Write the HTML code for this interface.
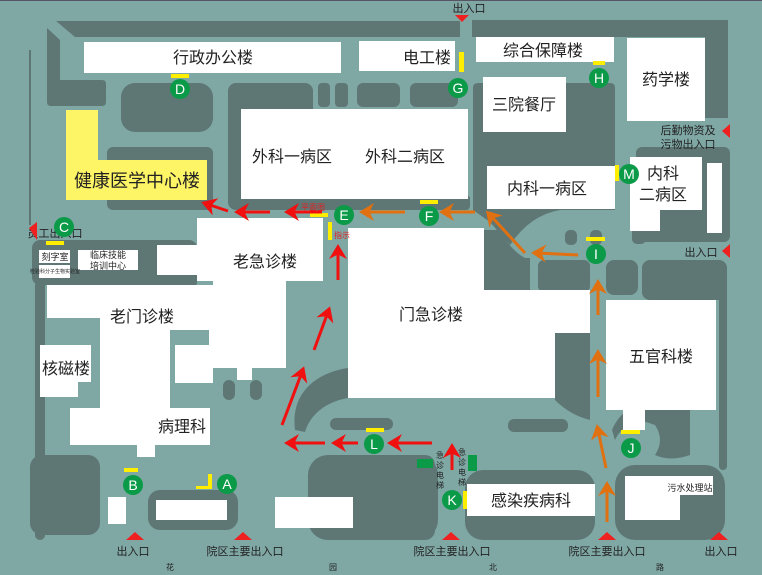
<!DOCTYPE html>
<html><head><meta charset="utf-8"><style>
body{margin:0;background:#7fa7a4}
svg{display:block}
text{font-family:"Liberation Sans","Noto Sans CJK SC",sans-serif;fill:#222}
</style></head><body>
<svg width="762" height="575" viewBox="0 0 762 575" xmlns="http://www.w3.org/2000/svg">
<defs>
<marker id="r" markerWidth="7" markerHeight="7" refX="3" refY="3.5" orient="auto" markerUnits="strokeWidth"><path d="M0,0.5 L5,3.5 L0,6.5 L1.5,3.5 z" fill="#f01010"/></marker>
<marker id="o" markerWidth="7" markerHeight="7" refX="3" refY="3.5" orient="auto" markerUnits="strokeWidth"><path d="M0,0.5 L5,3.5 L0,6.5 L1.5,3.5 z" fill="#e07010"/></marker>
</defs>
<rect width="762" height="575" fill="#7fa7a4"/>
<rect x="0" y="0" width="762" height="1" fill="#556"/>
<rect x="29" y="50" width="2" height="175" fill="#5e7775"/>
<!-- dark areas -->
<g fill="#5e7775">
<path d="M56,21 L460,21 L460,37 L75,37 Z"/>
<path d="M47,28 L60,40 L60,80 L102,80 Q106,80 106,84 L106,102 Q106,106 102,106 L51,106 Q47,106 47,102 Z"/>
<rect x="121" y="83" width="92" height="49" rx="14"/>
<rect x="107" y="147" width="106" height="63" rx="6"/>
<rect x="228" y="83" width="85" height="127" rx="8"/>
<rect x="318" y="83" width="12" height="24" rx="4"/>
<rect x="335" y="83" width="13" height="24" rx="4"/>
<rect x="357" y="83" width="43" height="24" rx="6"/>
<rect x="410" y="83" width="48" height="24" rx="6"/>
<rect x="300" y="195" width="170" height="15" rx="4"/>
<path d="M472,20 L728,20 L728,118 L705,118 L705,37 L472,37 Z"/>
<path d="M473,88 Q473,83 478,83 L610,83 Q615,83 615,88 L615,210 L560,210 Q530,215 510,245 L490,222 L473,210 Z"/>
<rect x="636" y="147" width="94" height="95" rx="6"/>
<rect x="565" y="230" width="12" height="15" rx="5"/>
<rect x="590" y="230" width="12" height="15" rx="5"/>
<rect x="632" y="227" width="14" height="17" rx="5"/>
<path d="M483,230 L500,230 Q510,250 525,258 L530,258 L530,292 L483,292 Z"/>
<rect x="538" y="260" width="52" height="32" rx="6"/>
<path d="M555,330 L590,330 L590,420 Q570,415 555,400 Z"/>
<rect x="606" y="260" width="32" height="35" rx="8"/>
<rect x="642" y="260" width="85" height="40" rx="8"/>
<rect x="508" y="419" width="60" height="13" rx="6"/>
<rect x="330" y="418" width="63" height="12" rx="6"/>
<path d="M612,430 Q620,410 640,405 L690,405 L690,455 Q670,462 655,455 Q665,440 655,425 L640,420 Q622,425 615,440 Z"/>
<rect x="32" y="240" width="135" height="45" rx="8"/>
<rect x="142" y="240" width="55" height="50" rx="8"/>
<rect x="35" y="280" width="10" height="260" rx="5"/>
<rect x="719" y="270" width="8" height="200" rx="4"/>
<rect x="308" y="455" width="130" height="85" rx="20"/>
<rect x="465" y="470" width="130" height="70" rx="18"/>
<rect x="615" y="465" width="110" height="75" rx="20"/>
<rect x="400" y="455" width="35" height="85" rx="10"/>
<rect x="30" y="455" width="70" height="80" rx="12"/>
<rect x="148" y="490" width="90" height="40" rx="12"/>
<path d="M295,430 C290,390 320,372 348,368 L348,398 C325,402 310,415 305,432 Z"/>
<rect x="223" y="380" width="12" height="20" rx="6"/>
<rect x="250" y="380" width="12" height="20" rx="6"/>
</g>
<!-- white buildings -->
<g fill="#fff">
<rect x="84" y="42" width="257" height="31"/>
<rect x="359" y="41" width="96" height="30"/>
<rect x="476" y="37" width="138" height="25"/>
<rect x="627" y="38" width="78" height="83"/>
<rect x="483" y="77" width="83" height="55"/>
<rect x="241" y="109" width="227" height="90"/>
<rect x="487" y="166" width="128" height="43"/>
<rect x="630" y="157" width="72" height="53"/>
<rect x="630" y="209" width="30" height="22"/>
<rect x="707" y="163" width="15" height="70"/>
<rect x="197" y="218" width="126" height="63"/>
<rect x="157" y="245" width="40" height="30"/>
<rect x="213" y="277" width="73" height="25"/>
<rect x="209" y="300" width="77" height="68"/>
<rect x="237" y="366" width="15" height="14"/>
<rect x="175" y="345" width="38" height="38"/>
<rect x="47" y="285" width="55" height="33"/>
<rect x="100" y="285" width="113" height="45"/>
<rect x="100" y="328" width="70" height="82"/>
<rect x="70" y="408" width="140" height="37"/>
<rect x="137" y="444" width="18" height="13"/>
<path d="M40,345 L91,345 L91,382 L78,382 L78,397 L40,397 Z"/>
<rect x="348" y="228" width="136" height="170"/>
<rect x="484" y="290" width="106" height="43"/>
<rect x="484" y="330" width="71" height="68"/>
<rect x="606" y="300" width="110" height="110"/>
<rect x="623" y="408" width="22" height="22"/>
<rect x="467" y="484" width="128" height="32"/>
<path d="M625,476 L713,476 L713,495 L680,495 L680,520 L625,520 Z"/>
<rect x="156" y="500" width="71" height="20"/>
<rect x="275" y="497" width="78" height="31"/>
<rect x="108" y="497" width="18" height="27"/>
<rect x="39" y="250" width="31" height="13"/>
<rect x="39" y="265" width="31" height="13"/>
<rect x="78" y="250" width="60" height="20"/>
</g>
<path d="M66,110 L98,110 L98,160 L207,160 L207,200 L66,200 Z" fill="#fdf466"/>
<!-- labels -->
<g font-size="16" text-anchor="middle">
<text x="213" y="63">行政办公楼</text>
<text x="427" y="63">电工楼</text>
<text x="543" y="56">综合保障楼</text>
<text x="666" y="85">药学楼</text>
<text x="524" y="110">三院餐厅</text>
<text x="292" y="162">外科一病区</text>
<text x="405" y="162">外科二病区</text>
<text x="547" y="194">内科一病区</text>
<text x="663" y="179">内科</text>
<text x="663" y="200">二病区</text>
<text x="137" y="187" font-size="18">健康医学中心楼</text>
<text x="265" y="267">老急诊楼</text>
<text x="142" y="322">老门诊楼</text>
<text x="66" y="374">核磁楼</text>
<text x="182" y="432">病理科</text>
<text x="431" y="320">门急诊楼</text>
<text x="661" y="362">五官科楼</text>
<text x="531" y="506">感染疾病科</text>
</g>
<g font-size="11" text-anchor="middle">
<text x="469" y="12">出入口</text>
<text x="688" y="134">后勤物资及</text>
<text x="688" y="148">污物出入口</text>
<text x="701" y="256">出入口</text>
<text x="133" y="555">出入口</text>
<text x="245" y="555">院区主要出入口</text>
<text x="452" y="555">院区主要出入口</text>
<text x="607" y="555">院区主要出入口</text>
<text x="721" y="555">出入口</text>
<text x="55" y="237">员工出入口</text>
<text x="55" y="260" font-size="9">刻字室</text>
<text x="55" y="273" font-size="5">检验科分子生物实验室</text>
<text x="108" y="258" font-size="9">临床技能</text>
<text x="108" y="269" font-size="9">培训中心</text>
<text x="690" y="491" font-size="9">污水处理站</text>
<text x="313" y="210" font-size="8" style="fill:#e02020">平面图</text>
<text x="342" y="238" font-size="8" style="fill:#e02020">指示</text>
</g>
<g font-size="8" text-anchor="middle">
<text x="440" y="458">急</text><text x="440" y="468">诊</text><text x="440" y="478">电</text><text x="440" y="488">梯</text>
<text x="462" y="455">急</text><text x="462" y="465">诊</text><text x="462" y="475">电</text><text x="462" y="485">梯</text>
<text x="170" y="570">花</text><text x="333" y="570">园</text><text x="493" y="570">北</text><text x="660" y="570">路</text>
</g>
<rect x="417" y="459" width="16" height="9" fill="#0a9a48"/>
<rect x="468" y="455" width="9" height="16" fill="#0a9a48"/>
<!-- yellow tags -->
<g fill="#ffee00">
<rect x="171" y="74" width="18" height="4"/>
<rect x="46" y="241" width="18" height="4"/>
<rect x="310" y="213" width="18" height="4"/>
<rect x="328" y="222" width="4" height="18"/>
<rect x="420" y="200" width="18" height="4"/>
<rect x="593" y="61" width="12" height="4"/>
<rect x="615" y="165" width="4" height="16"/>
<rect x="586" y="237" width="19" height="4"/>
<rect x="366" y="428" width="18" height="4"/>
<rect x="621" y="430" width="19" height="4"/>
<rect x="463" y="491" width="4" height="18"/>
<rect x="124" y="468" width="14" height="4"/>
<path d="M196,489 L212,489 L212,474 L208,474 L208,486 L196,486 Z"/>
<rect x="459" y="52" width="5" height="20"/>
</g>
<!-- red triangles -->
<g fill="#ee2020">
<path d="M455,15 L469,15 L462,22 Z"/>
<path d="M126,540 L144,540 L135,532 Z"/><path d="M234,540 L252,540 L243,532 Z"/>
<path d="M442,540 L460,540 L451,532 Z"/><path d="M598,540 L616,540 L607,532 Z"/>
<path d="M710,540 L728,540 L719,532 Z"/>
<path d="M722,131 L730,124 L730,138 Z"/><path d="M722,251 L730,244 L730,258 Z"/>
<path d="M29,228 L37,222 L37,240 Z"/>
</g>
<!-- red arrows -->
<g stroke="#f01010" stroke-width="3" fill="none" marker-end="url(#r)">
<line x1="322" y1="212" x2="290" y2="212"/>
<line x1="270" y1="212" x2="240" y2="212"/>
<line x1="228" y1="211" x2="207" y2="204"/>
<line x1="338" y1="280" x2="338" y2="250"/>
<line x1="314" y1="350" x2="328" y2="312"/>
<line x1="282" y1="425" x2="302" y2="372"/>
<line x1="325" y1="443" x2="290" y2="443"/>
<line x1="358" y1="443" x2="337" y2="443"/>
<line x1="432" y1="443" x2="393" y2="443"/>
<line x1="452" y1="470" x2="452" y2="449"/>
</g>
<!-- orange arrows -->
<g stroke="#e07010" stroke-width="3" fill="none" marker-end="url(#o)">
<line x1="405" y1="212" x2="365" y2="212"/>
<line x1="475" y1="212" x2="445" y2="212"/>
<line x1="525" y1="253" x2="490" y2="215"/>
<line x1="578" y1="255" x2="537" y2="253"/>
<line x1="598" y1="315" x2="598" y2="285"/>
<line x1="598" y1="397" x2="598" y2="355"/>
<line x1="606" y1="468" x2="598" y2="430"/>
<line x1="607" y1="522" x2="607" y2="487"/>
</g>
<!-- green markers -->
<g fill="#0a9a48">
<circle cx="180" cy="89" r="10"/><circle cx="458" cy="88" r="10"/><circle cx="599" cy="78" r="10"/>
<circle cx="64" cy="227" r="10"/><circle cx="344" cy="215" r="10"/><circle cx="429" cy="216" r="10"/>
<circle cx="629" cy="174" r="10"/><circle cx="596" cy="254" r="10"/><circle cx="374" cy="444" r="10"/>
<circle cx="631" cy="448" r="10"/><circle cx="452" cy="500" r="10"/><circle cx="133" cy="485" r="10"/>
<circle cx="227" cy="484" r="10"/>
</g>
<g font-size="14" text-anchor="middle">
<text x="180" y="94" style="fill:#fff">D</text><text x="458" y="93" style="fill:#fff">G</text><text x="599" y="83" style="fill:#fff">H</text>
<text x="64" y="232" style="fill:#fff">C</text><text x="344" y="220" style="fill:#fff">E</text><text x="429" y="221" style="fill:#fff">F</text>
<text x="629" y="179" style="fill:#fff">M</text><text x="596" y="259" style="fill:#fff">I</text><text x="374" y="449" style="fill:#fff">L</text>
<text x="631" y="453" style="fill:#fff">J</text><text x="452" y="505" style="fill:#fff">K</text><text x="133" y="490" style="fill:#fff">B</text>
<text x="227" y="489" style="fill:#fff">A</text>
</g>
</svg>
</body></html>
